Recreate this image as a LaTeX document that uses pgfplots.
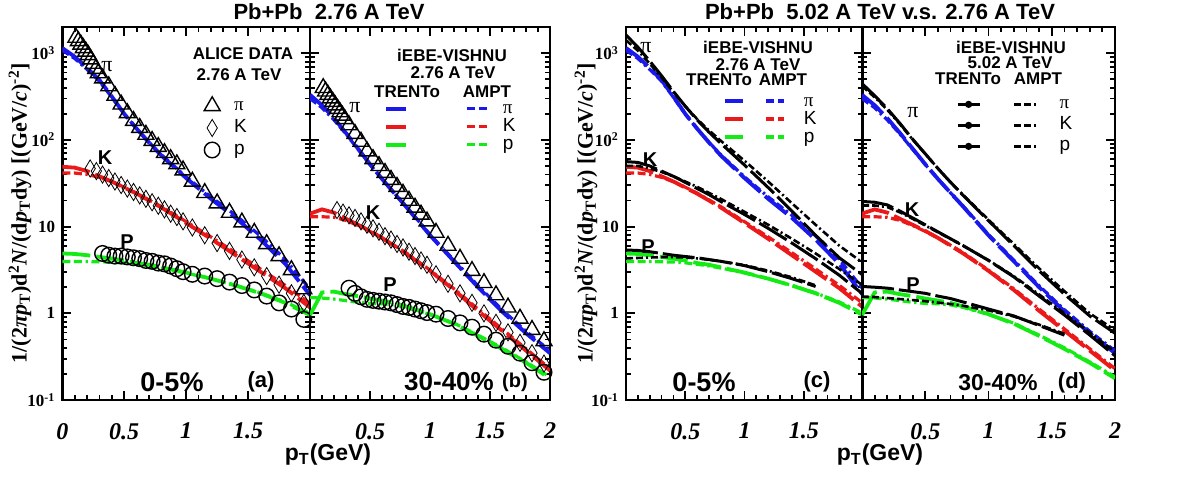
\documentclass[border=0pt]{standalone}
\usepackage{pgfplots}
\pgfplotsset{compat=1.18}
\usepackage{pgfplotstable}
\usepackage{fontspec}
\setmainfont{Liberation Serif}
\newfontfamily\hv{Liberation Sans}

\definecolor{cpi}{RGB}{25,25,235}
\definecolor{ck}{RGB}{235,25,25}
\definecolor{cp}{RGB}{20,235,20}

% iEBE-VISHNU spectra: columns pT, pion, kaon, proton
\pgfplotstableread{
pt pi K p
0   1148 49.0 4.90
0.1 912  47.9 4.84
0.2 676  43.7 4.68
0.3 490  38.0 4.47
0.4 316  33.1 4.27
0.5 200  28.2 4.07
0.6 135  24.0 3.80
0.7 93.3 20.0 3.63
0.8 66.1 16.6 3.39
1.0 36.3 11.0 2.95
1.2 20.9 7.24 2.51
1.4 12.6 4.68 2.09
1.6 7.08 3.02 1.70
1.8 3.72 1.95 1.32
2.0 1.62 1.17 0.955
}\trtc
\pgfplotstableread{
pt pi K p
0   1080 41.5 3.95
0.1 870  41.5 3.95
0.2 650  40.0 3.95
0.3 475  37.0 3.93
0.4 310  33.0 3.90
0.5 198  28.5 3.82
0.6 135  24.3 3.68
0.7 94   20.3 3.52
0.8 67.5 17.0 3.33
1.0 37.5 11.4 2.92
1.2 22.0 7.6  2.50
1.4 13.5 5.0  2.10
1.6 7.8  3.25 1.72
1.8 4.2  2.1  1.35
2.0 1.9  1.3  1.00
}\amtc
\pgfplotstableread{
pt pi K p
0   331  14.1 0.955
0.1 251  15.8 1.74
0.2 178  14.5 1.78
0.3 120  12.3 1.66
0.4 79.4 10.5 1.58
0.5 52.5 8.91 1.48
0.6 35.5 7.41 1.40
0.7 24.5 6.03 1.32
0.8 17.0 4.90 1.20
1.0 7.94 3.09 0.977
1.2 3.98 1.86 0.759
1.4 2.00 1.07 0.550
1.6 1.05 0.631 0.389
1.8 0.589 0.372 0.269
2.0 0.347 0.219 0.178
}\trtp
\pgfplotstableread{
pt pi K p
0   300  13.0 1.52
0.1 235  13.0 1.50
0.2 170  12.8 1.46
0.3 117  11.8 1.40
0.4 78   10.3 1.34
0.5 52   8.8  1.30
0.6 35.5 7.4  1.29
0.7 24.5 6.1  1.25
0.8 17.2 5.0  1.17
1.0 8.1  3.15 0.97
1.2 4.1  1.92 0.77
1.4 2.08 1.12 0.56
1.6 1.1  0.66 0.40
1.8 0.62 0.39 0.275
2.0 0.37 0.23 0.185
}\amtp
\pgfplotstableread{
pt pi K p
0   1622 56.2 5.37
0.1 1175 55.0 5.31
0.2 813  50.1 5.13
0.3 550  43.7 4.90
0.4 363  38.0 4.68
0.5 245  32.4 4.52
0.6 170  27.5 4.37
0.7 123  23.4 4.17
0.8 91.2 19.5 3.98
1.0 51.3 13.8 3.55
1.2 28.2 9.55 3.02
1.4 15.1 6.46 2.51
1.6 7.94 4.27 2.04
1.8 4.37 2.75 nan
2.0 2.75 1.66 nan
}\trfc
\pgfplotstableread{
pt pi K p
0   1413 50.1 4.30
0.1 1072 50.1 4.35
0.2 759  46.8 4.40
0.3 525  42.7 4.45
0.4 355  38.0 4.45
0.5 245  33.1 4.40
0.6 174  28.8 4.30
0.7 129  24.5 4.15
0.8 97.7 20.9 3.98
1.0 57.5 14.8 3.60
1.2 33.1 10.5 3.10
1.4 18.6 7.24 2.60
1.6 10.5 4.90 2.10
1.8 6.03 3.24 nan
2.0 3.80 2.09 nan
}\amfc
\pgfplotstableread{
pt pi K p
0   447  19.5 2.04
0.1 324  19.1 2.00
0.2 229  17.8 1.95
0.3 155  15.1 1.86
0.4 102  12.6 1.78
0.5 69.2 10.5 1.70
0.6 46.8 8.71 1.58
0.7 32.4 7.24 1.48
0.8 22.9 6.03 1.35
1.0 11.7 4.07 1.12
1.2 6.03 2.63 0.933
1.4 3.09 1.58 0.724
1.6 1.66 0.955 0.56
1.8 0.933 0.562 nan
2.0 0.589 0.324 nan
}\trfp
\pgfplotstableread{
pt pi K p
0   420  17.5 1.56
0.1 310  17.5 1.54
0.2 222  16.8 1.50
0.3 152  14.6 1.46
0.4 101  12.3 1.42
0.5 69   10.3 1.38
0.6 47   8.6  1.33
0.7 32.6 7.2  1.28
0.8 23.2 6.0  1.22
1.0 12.0 4.1  1.08
1.2 6.3  2.68 0.92
1.4 3.3  1.65 0.74
1.6 1.8  1.0  0.58
1.8 1.0  0.60 nan
2.0 0.64 0.36 nan
}\amfp

% ALICE Pb+Pb 2.76 TeV, 0-5%
\pgfplotstableread{
pt v
0.11 1514
0.13 1380
0.15 1259
0.17 1148
0.19 1047
0.21 955
0.23 851
0.25 759
0.27 661
0.29 589
0.325 513
0.375 417
0.425 324
0.475 257
0.525 204
0.575 166
0.625 138
0.675 115
0.725 97.7
0.775 83.2
0.825 70.8
0.875 60.3
0.925 52.5
0.975 44.7
1.05 33.1
1.15 24.5
1.25 18.6
1.35 14.5
1.45 11.2
1.55 8.51
1.65 6.31
1.75 4.57
1.85 3.16
1.95 1.90
}\apic
\pgfplotstableread{
pt v
0.225 46.8
0.275 43.7
0.325 39.8
0.375 36.3
0.425 33.1
0.475 30.2
0.525 27.5
0.575 25.1
0.625 22.9
0.675 20.9
0.725 19.1
0.775 17.4
0.825 15.8
0.875 14.1
0.925 12.9
0.975 11.5
1.05 9.77
1.15 7.94
1.25 6.46
1.35 5.25
1.45 4.17
1.55 3.39
1.65 2.69
1.75 2.14
1.85 1.70
1.95 1.32
}\akc
\pgfplotstableread{
pt v
0.325 4.90
0.375 4.68
0.425 4.57
0.475 4.57
0.525 4.47
0.575 4.37
0.625 4.27
0.675 4.07
0.725 3.98
0.775 3.80
0.825 3.72
0.875 3.51
0.925 3.27
0.975 3.02
1.05 2.82
1.15 2.69
1.25 2.51
1.35 2.29
1.45 2.09
1.55 1.86
1.65 1.58
1.75 1.32
1.85 1.12
1.95 0.851
}\aprc
% ALICE Pb+Pb 2.76 TeV, 30-40%
\pgfplotstableread{
pt v
0.11 398
0.13 363
0.15 331
0.17 302
0.19 275
0.21 251
0.23 229
0.25 209
0.27 191
0.29 174
0.325 148
0.375 117.5
0.425 95.5
0.475 74.1
0.525 60.3
0.575 50.1
0.625 41.7
0.675 34.7
0.725 28.8
0.775 24.0
0.825 19.95
0.875 16.6
0.925 13.8
0.975 11.5
1.05 8.51
1.15 6.03
1.25 4.27
1.35 3.09
1.45 2.24
1.55 1.62
1.65 1.17
1.75 0.871
1.85 0.646
1.95 0.479
}\apip
\pgfplotstableread{
pt v
0.225 15.5
0.275 14.5
0.325 13.5
0.375 12.6
0.425 11.5
0.475 10.5
0.525 9.55
0.575 8.71
0.625 7.76
0.675 7.08
0.725 6.31
0.775 5.75
0.825 5.13
0.875 4.57
0.925 4.07
0.975 3.63
1.05 2.82
1.15 2.19
1.25 1.70
1.35 1.32
1.45 1.00
1.55 0.776
1.65 0.603
1.75 0.457
1.85 0.347
1.95 0.263
}\akp
\pgfplotstableread{
pt v
0.325 1.95
0.375 1.70
0.425 1.55
0.475 1.45
0.525 1.41
0.575 1.38
0.625 1.35
0.675 1.32
0.725 1.26
0.775 1.20
0.825 1.17
0.875 1.12
0.925 1.07
0.975 1.02
1.05 0.977
1.15 0.871
1.25 0.776
1.35 0.692
1.45 0.575
1.55 0.490
1.65 0.417
1.75 0.347
1.85 0.269
1.95 0.209
}\aprp

\pgfplotsset{
  panel/.style={
    scale only axis, height=186.45pt, anchor=south west,
    ymin=0.1, ymax=2000, xmin=0, xmax=2,
    axis line style={line width=1.3pt},
    every tick/.style={line width=0.9pt, black},
    major tick length=4.5pt, minor tick length=2.3pt,
    tick align=inside, tick pos=both,
    xtick={0,0.5,1,1.5,2}, minor x tick num=4,
    ytick={0.1,1,10,100,1000},
    minor ytick={0.2,0.3,0.4,0.5,0.6,0.7,0.8,0.9,2,3,4,5,6,7,8,9,20,30,40,50,60,70,80,90,200,300,400,500,600,700,800,900},
    yticklabels={,,,,},
    xticklabel style={font=\bfseries\itshape\fontsize{12}{12}\selectfont, yshift=-8pt},
    yticklabel style={font=\bfseries\fontsize{8.5}{9}\selectfont},
    legend cell align=left,
    legend style={draw=none, fill=none, inner sep=0pt, outer sep=0pt,
      column sep=0pt, row sep=0pt, anchor=north west,
      font=\hv\fontsize{9.5}{10}\selectfont,
      nodes={inner sep=0pt, text height=7pt, text depth=2pt}},
  },
  logylabels/.style={yticklabels={10\textsuperscript{-1},1,10,10\textsuperscript{2},10\textsuperscript{3}}},
  legimg/.style={legend image code/.code={\draw[mark repeat=2,mark phase=2,##1] plot coordinates {(0pt,0pt) (#1/2,0pt) (#1,0pt)};}},
  tr/.style={line width=1.9pt, dash pattern=on 14pt off 3pt},
  am/.style={line width=1.6pt, dash pattern=on 4pt off 1.8pt on 4pt off 1.8pt on 1.2pt off 1.8pt},
  btr/.style={black, line width=1.5pt, dash pattern=on 16pt off 2.5pt},
  bam/.style={black, line width=1.3pt, dash pattern=on 3.5pt off 1.5pt on 3.5pt off 1.5pt on 1pt off 1.5pt},
  dat/.style={only marks, black, mark options={solid, line width=0.7pt, fill=none}},
}

\begin{document}
\begin{tikzpicture}
\path[use as bounding box] (0,0) rectangle (591pt,247pt);

% ---------------- (a) 0-5%, 2.76 TeV
\begin{semilogyaxis}[panel, logylabels, at={(31.15pt,47pt)}, width=123.85pt,
  xticklabels={0,0.5,1,1.5,{}},
  legend style={at={(0.573,0.818)}, nodes={text height=8pt, text depth=3pt}},
  legimg=17pt]
\addplot[dat, mark=triangle, mark size=4.6pt] table[x=pt,y=v]{\apic};
\addlegendentry{\hspace*{7pt}\rmfamily π}
\addplot[dat, mark=diamond, mark size=4.3pt, mark options={xscale=0.8}] table[x=pt,y=v]{\akc};
\addlegendentry{\hspace*{7pt}K}
\addplot[dat, mark=o, mark size=3.9pt] table[x=pt,y=v]{\aprc};
\addlegendentry{\hspace*{7pt}p}
\addplot[tr, cpi] table[x=pt,y=pi]{\trtc};
\addplot[am, cpi] table[x=pt,y=pi]{\amtc};
\addplot[tr, ck] table[x=pt,y=K]{\trtc};
\addplot[am, ck] table[x=pt,y=K]{\amtc};
\addplot[tr, cp] table[x=pt,y=p]{\trtc};
\addplot[am, cp] table[x=pt,y=p]{\amtc};
\end{semilogyaxis}

% ---------------- (b) 30-40%, 2.76 TeV
\begin{semilogyaxis}[panel, at={(155pt,47pt)}, width=120pt,
  xticklabels={{},0.5,1,1.5,2},
  legend columns=2,
  legend style={at={(0.308,0.805)}},
  legimg=10pt]
\addlegendimage{tr, cpi}\addlegendentry{\hspace*{29pt}}
\addlegendimage{am, cpi}\addlegendentry{\hspace*{7pt}\rmfamily π}
\addlegendimage{tr, ck}\addlegendentry{\hspace*{29pt}}
\addlegendimage{am, ck}\addlegendentry{\hspace*{7pt}K}
\addlegendimage{tr, cp}\addlegendentry{\hspace*{29pt}}
\addlegendimage{am, cp}\addlegendentry{\hspace*{7pt}p}
\addplot[dat, mark=triangle, mark size=4.6pt] table[x=pt,y=v]{\apip};
\addplot[dat, mark=diamond, mark size=4.3pt, mark options={xscale=0.8}] table[x=pt,y=v]{\akp};
\addplot[dat, mark=o, mark size=3.9pt] table[x=pt,y=v]{\aprp};
\addplot[tr, cpi] table[x=pt,y=pi]{\trtp};
\addplot[am, cpi] table[x=pt,y=pi]{\amtp};
\addplot[tr, ck] table[x=pt,y=K]{\trtp};
\addplot[am, ck] table[x=pt,y=K]{\amtp};
\addplot[tr, cp] table[x=pt,y=p]{\trtp};
\addplot[am, cp] table[x=pt,y=p]{\amtp};
\end{semilogyaxis}

% ---------------- (c) 0-5%, 5.02 vs 2.76 TeV
\begin{semilogyaxis}[panel, logylabels, at={(313pt,47pt)}, width=118.5pt,
  xticklabels={{},0.5,1,1.5,{}},
  legend columns=2,
  legend style={at={(0.409,0.826)}},
  legimg=9pt]
\addlegendimage{tr, cpi}\addlegendentry{\hspace*{10pt}}
\addlegendimage{am, cpi}\addlegendentry{\hspace*{9pt}\rmfamily π}
\addlegendimage{tr, ck}\addlegendentry{\hspace*{10pt}}
\addlegendimage{am, ck}\addlegendentry{\hspace*{9pt}K}
\addlegendimage{tr, cp}\addlegendentry{\hspace*{10pt}}
\addlegendimage{am, cp}\addlegendentry{\hspace*{9pt}p}
\addplot[tr, cpi] table[x=pt,y=pi]{\trtc};
\addplot[am, cpi] table[x=pt,y=pi]{\amtc};
\addplot[tr, ck] table[x=pt,y=K]{\trtc};
\addplot[am, ck] table[x=pt,y=K]{\amtc};
\addplot[tr, cp] table[x=pt,y=p]{\trtc};
\addplot[am, cp] table[x=pt,y=p]{\amtc};
\addplot[btr] table[x=pt,y=pi]{\trfc};
\addplot[bam] table[x=pt,y=pi]{\amfc};
\addplot[btr] table[x=pt,y=K]{\trfc};
\addplot[bam] table[x=pt,y=K]{\amfc};
\addplot[btr] table[x=pt,y=p]{\trfc};
\addplot[bam] table[x=pt,y=p]{\amfc};
\end{semilogyaxis}

% ---------------- (d) 30-40%, 5.02 vs 2.76 TeV
\begin{semilogyaxis}[panel, at={(431pt,47pt)}, width=126.5pt,
  xticklabels={{},0.5,1,1.5,2},
  legend columns=2,
  legend style={at={(0.372,0.821)}, nodes={text height=7.5pt, text depth=3pt}},
  legimg=11pt]
\addlegendimage{btr, mark=*, mark size=1pt, mark options={solid}}\addlegendentry{\hspace*{16pt}}
\addlegendimage{bam}\addlegendentry{\hspace*{11pt}\rmfamily π}
\addlegendimage{btr, mark=*, mark size=1pt, mark options={solid}}\addlegendentry{\hspace*{16pt}}
\addlegendimage{bam}\addlegendentry{\hspace*{11pt}K}
\addlegendimage{btr, mark=*, mark size=1pt, mark options={solid}}\addlegendentry{\hspace*{16pt}}
\addlegendimage{bam}\addlegendentry{\hspace*{11pt}p}
\addplot[tr, cpi] table[x=pt,y=pi]{\trtp};
\addplot[am, cpi] table[x=pt,y=pi]{\amtp};
\addplot[tr, ck] table[x=pt,y=K]{\trtp};
\addplot[am, ck] table[x=pt,y=K]{\amtp};
\addplot[tr, cp] table[x=pt,y=p]{\trtp};
\addplot[am, cp] table[x=pt,y=p]{\amtp};
\addplot[btr] table[x=pt,y=pi]{\trfp};
\addplot[bam] table[x=pt,y=pi]{\amfp};
\addplot[btr] table[x=pt,y=K]{\trfp};
\addplot[bam] table[x=pt,y=K]{\amfp};
\addplot[btr] table[x=pt,y=p]{\trfp};
\addplot[bam] table[x=pt,y=p]{\amfp};
\end{semilogyaxis}

% titles and axis labels
\begin{scope}[every node/.style={inner sep=0pt}]
\node[font=\hv\bfseries\fontsize{11}{12}\selectfont] at (164.5pt,241pt) {Pb+Pb\ \ 2.76 A TeV};
\node[font=\hv\bfseries\fontsize{11}{12}\selectfont] at (440pt,241pt) {Pb+Pb\ \ 5.02 A TeV v.s. 2.76 A TeV};
\node[font=\hv\bfseries\fontsize{11.5}{12}\selectfont] at (164pt,19.5pt) {p\textsubscript{T}(GeV)};
\node[font=\hv\bfseries\fontsize{11.5}{12}\selectfont] at (440pt,19.5pt) {p\textsubscript{T}(GeV)};
\node[rotate=90, font=\bfseries\fontsize{11}{12}\selectfont] at (10pt,140.5pt)
  {1/(2\textit{πp}\textsubscript{T})d\textsuperscript{2}\textit{N}/(d\textit{p}\textsubscript{T}dy) [(GeV/\textit{c})\textsuperscript{-2}]};
\node[rotate=90, font=\bfseries\fontsize{11}{12}\selectfont] at (293pt,140.5pt)
  {1/(2\textit{πp}\textsubscript{T})d\textsuperscript{2}\textit{N}/(d\textit{p}\textsubscript{T}dy) [(GeV/\textit{c})\textsuperscript{-2}]};

% centrality and panel tags
\node[font=\hv\bfseries\fontsize{13.5}{14}\selectfont] at (86pt,56pt) {0-5\%};
\node[font=\hv\bfseries\fontsize{11}{12}\selectfont] at (130.5pt,56pt) {(a)};
\node[font=\hv\bfseries\fontsize{13}{14}\selectfont] at (224.5pt,56pt) {30-40\%};
\node[font=\hv\bfseries\fontsize{10}{11}\selectfont] at (257.5pt,56pt) {(b)};
\node[font=\hv\bfseries\fontsize{13.5}{14}\selectfont] at (352pt,56pt) {0-5\%};
\node[font=\hv\bfseries\fontsize{11}{12}\selectfont] at (408.5pt,56pt) {(c)};
\node[font=\hv\bfseries\fontsize{11.5}{12}\selectfont] at (499pt,55.5pt) {30-40\%};
\node[font=\hv\bfseries\fontsize{11}{12}\selectfont] at (536pt,55.5pt) {(d)};

% legend headings
\begin{scope}[every node/.append style={font=\hv\bfseries\fontsize{8.5}{9}\selectfont}]
\node at (121.5pt,220pt) {ALICE DATA};
\node at (119.5pt,209.5pt) {2.76 A TeV};
\node at (226pt,219.5pt) {iEBE-VISHNU};
\node at (226.5pt,210.5pt) {2.76 A TeV};
\node at (203.5pt,201pt) {TRENTo};
\node at (243.5pt,201pt) {AMPT};
\node at (379pt,223.5pt) {iEBE-VISHNU};
\node at (379pt,214.5pt) {2.76 A TeV};
\node at (359.5pt,207pt) {TRENTo};
\node at (391.5pt,207pt) {AMPT};
\node at (505.5pt,223.5pt) {iEBE-VISHNU};
\node at (505pt,215.5pt) {5.02 A TeV};
\node at (484pt,207.5pt) {TRENTo};
\node at (519pt,207.5pt) {AMPT};
\end{scope}

% species tags beside the curves
\begin{scope}[every node/.append style={font=\hv\bfseries\fontsize{10}{11}\selectfont}]
\node[font=\rmfamily\fontsize{11}{12}\selectfont] at (53.5pt,213.5pt) {π};
\node at (52.5pt,168pt) {K};
\node at (63.5pt,126pt) {P};
\node[font=\rmfamily\fontsize{11}{12}\selectfont] at (177.5pt,193pt) {π};
\node at (186.5pt,140.5pt) {K};
\node at (195pt,104.5pt) {P};
\node[font=\rmfamily\fontsize{11}{12}\selectfont] at (323pt,223pt) {π};
\node at (325pt,167pt) {K};
\node at (324pt,123.5pt) {P};
\node[font=\rmfamily\fontsize{11}{12}\selectfont] at (456.5pt,190.5pt) {π};
\node at (456pt,142pt) {K};
\node at (456.5pt,104.5pt) {P};
\end{scope}
\end{scope}
\end{tikzpicture}
\end{document}
